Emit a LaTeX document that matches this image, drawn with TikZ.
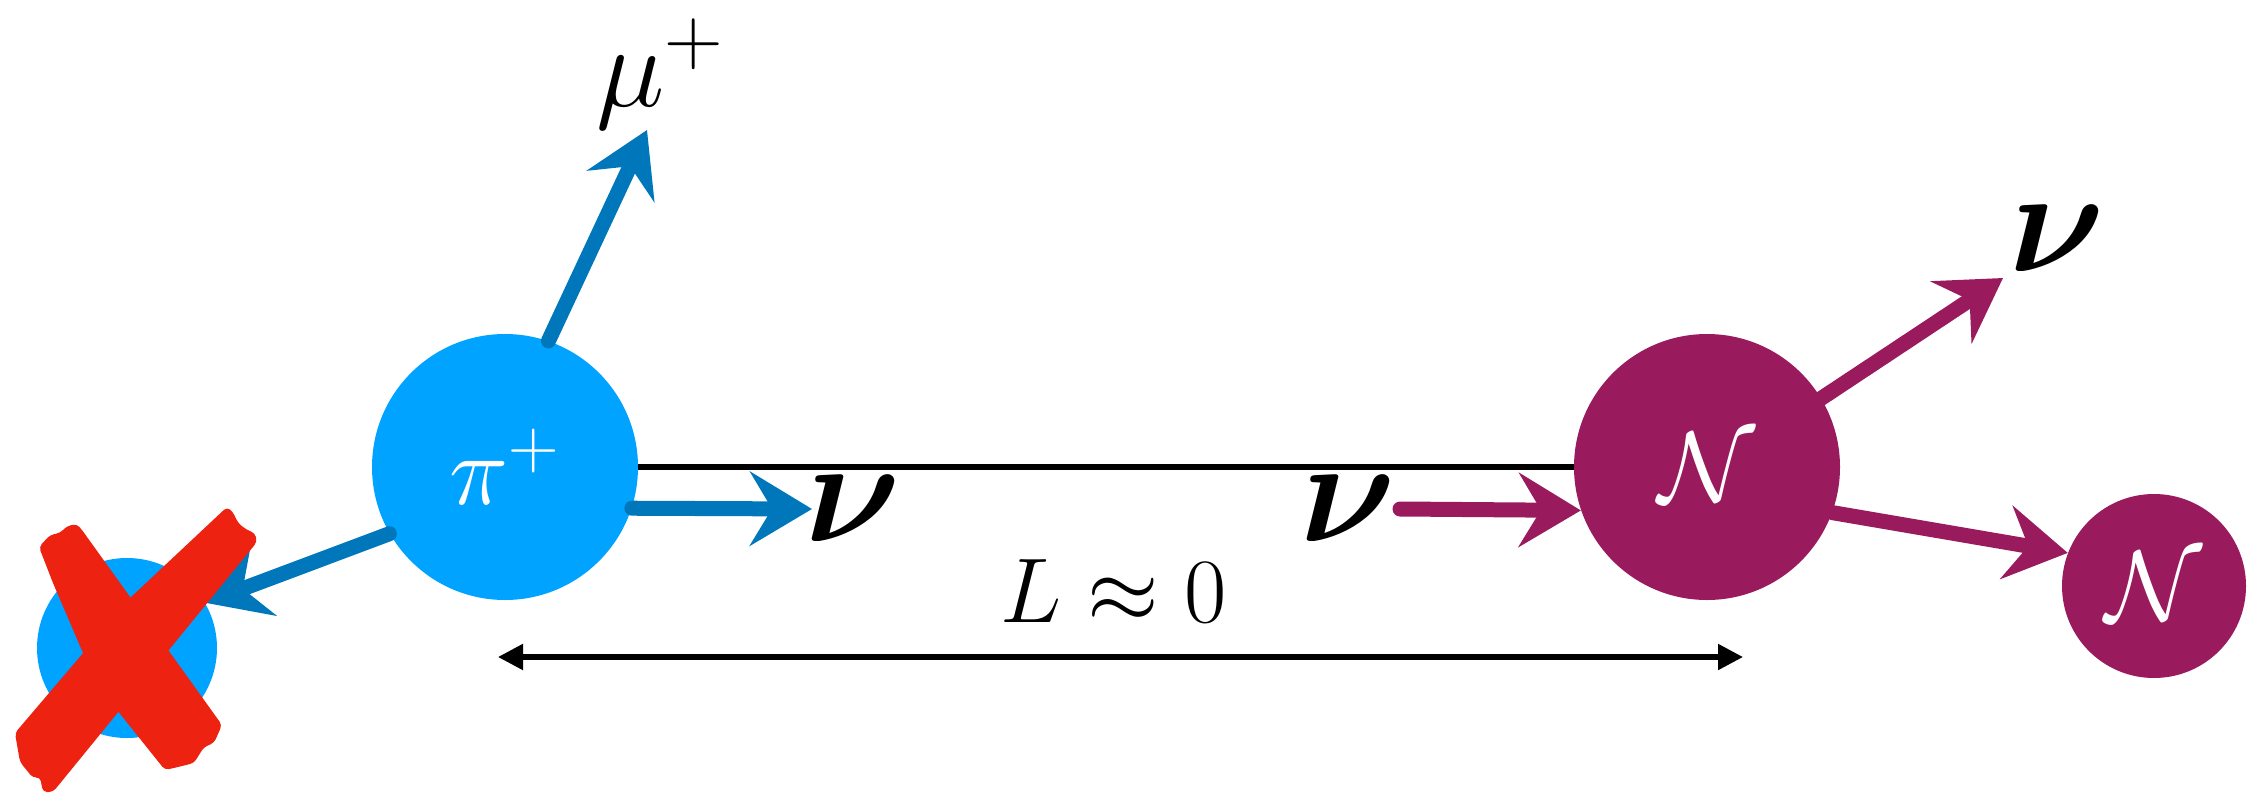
\RequirePackage{fix-cm}
\documentclass[tikz,border=0pt]{standalone}
\usepackage{amsmath}
\usetikzlibrary{arrows.meta}
\definecolor{piblue}{HTML}{00A3FF}
\definecolor{chalkblue}{HTML}{0077BB}
\definecolor{nucpurple}{HTML}{9A1A5E}
\definecolor{xred}{HTML}{EE2211}
\begin{document}
\begin{tikzpicture}[x=0.5pt,y=-0.5pt,
  particle/.style={circle, fill=#1, draw=none, inner sep=0pt, text=white},
  chalk/.style={draw=#1, line width=7.5pt, line cap=round,
    -{Stealth[length=31pt,width=37pt,inset=11pt]}},
  lbl/.style={inner sep=0pt, text=black},
  nufont/.style={font=\fontsize{74}{80}\selectfont},
  dimline/.style={line width=2.6pt, {Triangle[length=12.5pt,width=12.5pt]}-{Triangle[length=12.5pt,width=12.5pt]}}
]
\useasboundingbox (0,0) rectangle (2249,793);

% particles
\node[particle=piblue, minimum size=133pt, font=\fontsize{50}{55}\selectfont] (pi) at (505,467) {$\pi^{+}$};
\node[particle=piblue, minimum size=90pt] (old) at (127,648) {};
\node[particle=nucpurple, minimum size=133pt, font=\fontsize{50}{56}\selectfont] (N1) at (1707,467) {$\mathcal{N}$};
\node[particle=nucpurple, minimum size=92pt, font=\fontsize{50}{56}\selectfont] (N2) at (2154,586) {$\mathcal{N}$};

% labels
\node[lbl, nufont] (nu1) at (853,509) {$\boldsymbol{\nu}$};
\node[lbl, nufont] (nu2) at (1348,509) {$\boldsymbol{\nu}$};
\node[lbl, nufont] (nu3) at (2057,239) {$\boldsymbol{\nu}$};
\node[lbl, font=\fontsize{58}{64}\selectfont] (mu) at (660,74) {$\mu^{+}$};
\node[lbl, anchor=base, font=\fontsize{46}{50}\selectfont] (L) at (1114,622) {$L\approx 0$};

% free ends
\coordinate (nu1tip) at (812,509);
\coordinate (nu2tail) at (1400,509);
\coordinate (nu3tip) at (2003,278);
\coordinate (mutip) at (647,130);
\coordinate (Lleft) at (498,657);
\coordinate (Lright) at (1743,657);

% baseline
\draw[line width=2.6pt] (pi.east) -- (N1.west);

% chalk arrows
\draw[chalk=chalkblue] (pi.-18.5) -- (nu1tip);
\draw[chalk=chalkblue] (pi.71) -- (mutip);
\draw[chalk=chalkblue] (pi.210) -- (old.30);
\draw[chalk=nucpurple] (nu2tail) -- (N1.199);
\draw[chalk=nucpurple] (N1.31) -- (nu3tip);
\draw[chalk=nucpurple] (N1.-20) -- (N2.159);

% distance
\draw[dimline] (Lleft) -- (Lright);

% red cross
\fill[xred, rounded corners=2pt]
  (39,547) -- (50,535) -- (60,533) -- (67,526) -- (77,524) -- (82,530)
  -- (222,725) -- (214,743) -- (204,747) -- (194,763) -- (178,767) -- (165,770)
  -- (117,710) -- (83,653) -- (53,583) -- cycle;
\fill[xred, rounded corners=2pt]
  (227,507) -- (233,512) -- (238,523) -- (247,530) -- (255,533) -- (257,542)
  -- (53,792) -- (43,792) -- (40,777) -- (33,778) -- (20,762) -- (15,733)
  -- (130,598) -- cycle;
\end{tikzpicture}
\end{document}
